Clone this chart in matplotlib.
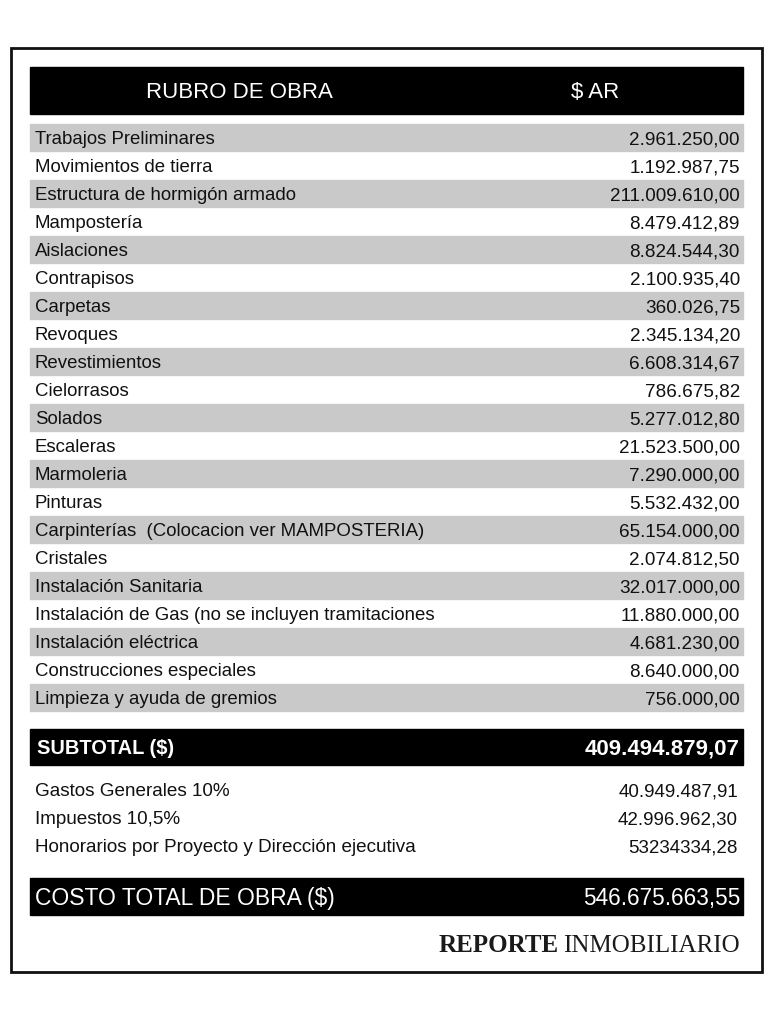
import matplotlib.pyplot as plt
from matplotlib.patches import Rectangle
from matplotlib import font_manager

# ----------- data ----------- #
rubros = ['Trabajos Preliminares', 'Movimientos de tierra', 'Estructura de hormigón armado',
          'Mampostería', 'Aislaciones', 'Contrapisos', 'Carpetas', 'Revoques',
          'Revestimientos', 'Cielorrasos', 'Solados', 'Escaleras', 'Marmoleria', 'Pinturas',
          'Carpinterías  (Colocacion ver MAMPOSTERIA)', 'Cristales', 'Instalación Sanitaria',
          'Instalación de Gas (no se incluyen tramitaciones', 'Instalación eléctrica',
          'Construcciones especiales', 'Limpieza y ayuda de gremios']
montos = ['2.961.250,00', '1.192.987,75', '211.009.610,00', '8.479.412,89', '8.824.544,30',
          '2.100.935,40', '360.026,75', '2.345.134,20', '6.608.314,67', '786.675,82',
          '5.277.012,80', '21.523.500,00', '7.290.000,00', '5.532.432,00', '65.154.000,00',
          '2.074.812,50', '32.017.000,00', '11.880.000,00', '4.681.230,00', '8.640.000,00',
          '756.000,00']
subtotal = '409.494.879,07'
extras = ['Gastos Generales 10%', 'Impuestos 10,5%', 'Honorarios por Proyecto y Dirección ejecutiva']
extras_montos = ['40.949.487,91', '42.996.962,30', '53234334,28']
total = '546.675.663,55'

names = {f.name for f in font_manager.fontManager.ttflist}
fam = 'Liberation Sans Narrow' if 'Liberation Sans Narrow' in names else 'Liberation Sans'

fig = plt.figure(figsize=(7.68, 10.24), dpi=100)
ax = fig.add_axes([0, 0, 1, 1])
ax.set_xlim(0, 768)
ax.set_ylim(1024, 0)
ax.axis('off')

# outer frame
ax.add_patch(Rectangle((11, 48), 751, 924, fill=False, lw=2, ec='#111111'))

# header
ax.add_patch(Rectangle((30, 67), 713, 47, color='black'))
ax.text(239, 92.5, 'RUBRO DE OBRA', color='white', fontsize=16, family=fam, ha='center', va='center')
ax.text(595, 92.5, '$ AR', color='white', fontsize=16, family=fam, ha='center', va='center')

# rows
row_h = 28
top = 124
for i, (r, m) in enumerate(zip(rubros, montos)):
    y = top + i * row_h
    if i % 2 == 0:
        ax.add_patch(Rectangle((30, y), 713, row_h - 1, color='#c9c9c9'))
    ax.text(35, y + row_h / 2 + 1.8, r, fontsize=13.4, family=fam, ha='left', va='center', color='#111111')
    ax.text(740, y + row_h / 2 + 1.8, m, fontsize=13.6, family=fam, ha='right', va='center', color='#111111')

# subtotal
ax.add_patch(Rectangle((30, 729), 713, 36, color='black'))
ax.text(37, 749, 'SUBTOTAL ($)', color='white', fontsize=14.4, family=fam, weight='bold', ha='left', va='center')
ax.text(740, 749, subtotal, color='white', fontsize=16, family=fam, weight='bold', ha='right', va='center')

for i, (e, m) in enumerate(zip(extras, extras_montos)):
    y = 792 + i * 28
    ax.text(35, y, e, fontsize=13.6, family=fam, ha='left', va='center', color='#111111')
    ax.text(738, y, m, fontsize=13.5, family=fam, ha='right', va='center', color='#111111')

# total
ax.add_patch(Rectangle((30, 878), 713, 37, color='black'))
ax.text(35, 898.5, 'COSTO TOTAL DE OBRA ($)', color='white', fontsize=16.5, family=fam, ha='left', va='center')
ax.text(740, 898.5, total, color='white', fontsize=16.3, family=fam, ha='right', va='center')

# logo
t1 = ax.text(740, 945.5, 'INMOBILIARIO', fontsize=18, family='Liberation Serif', ha='right', va='center', color='#1a1a1a')
fig.canvas.draw()
bb = t1.get_window_extent().transformed(ax.transData.inverted())
ax.text(min(bb.x0, bb.x1) - 5, 945.5, 'REPORTE', fontsize=18, family='Liberation Serif', weight='bold',
        ha='right', va='center', color='#1a1a1a')

fig.savefig('out.png', dpi=100, facecolor='white')
